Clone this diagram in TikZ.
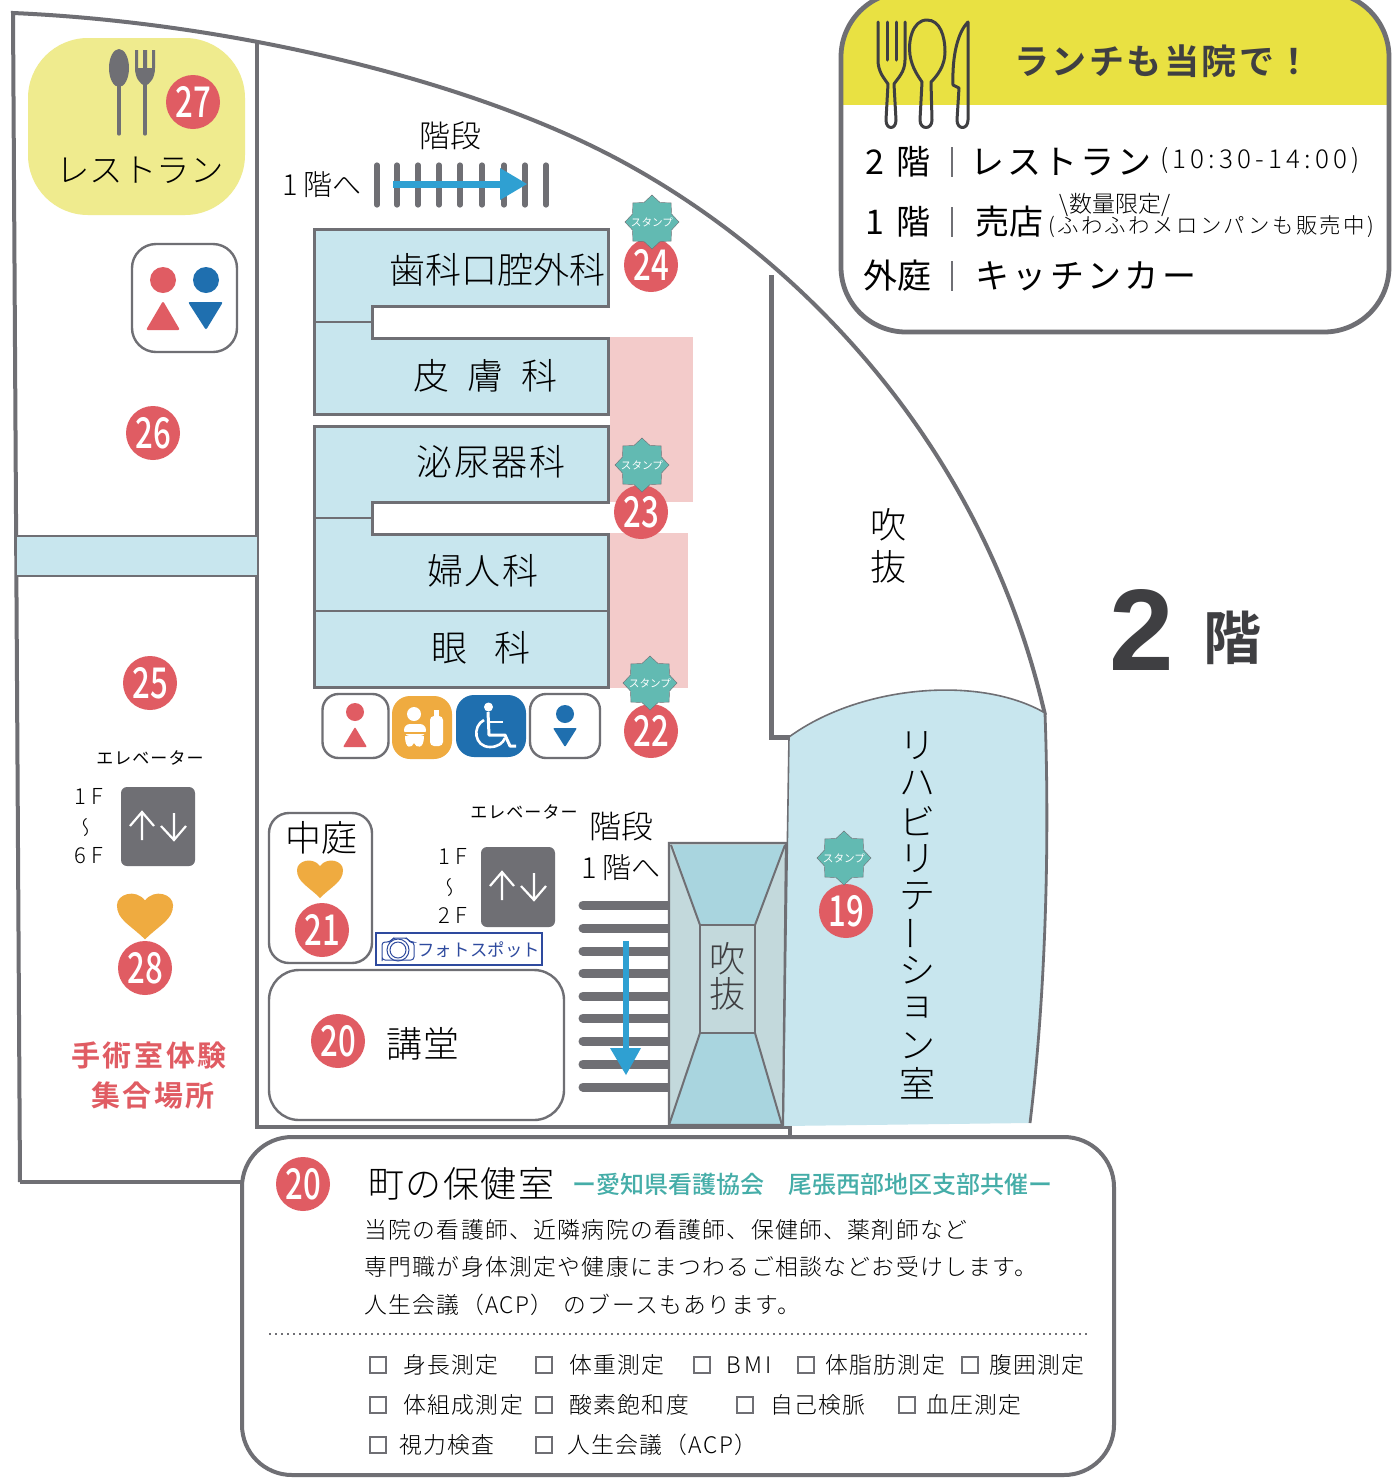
\documentclass[tikz,border=0pt]{standalone}
\usepackage{fontspec}
\usetikzlibrary{shapes.geometric}
\newfontfamily\jp{Noto Sans CJK JP Light}[BoldFont=Noto Sans CJK JP Bold]
\newfontfamily\jpm{Noto Sans CJK JP}
\newfontfamily\jpd{Noto Sans CJK JP Medium}
\newfontfamily\lat{Liberation Sans}
\newcommand\fsz[1]{\fontsize{#1}{#1}\selectfont\jp}
\newcommand\msz[1]{\fontsize{#1}{#1}\selectfont\jpm}
\newcommand\dsz[1]{\fontsize{#1}{#1}\selectfont\jpd}
\newcommand\nsz[1]{\fontsize{#1}{#1}\selectfont\lat}
\definecolor{wallgray}{HTML}{6F6F74}
\definecolor{roomblue}{HTML}{C8E6EE}
\definecolor{pinkarea}{HTML}{F3CBCA}
\definecolor{numred}{HTML}{E05C63}
\definecolor{stampteal}{HTML}{62BAB2}
\definecolor{lunchy}{HTML}{E9E142}
\definecolor{restay}{HTML}{EFEB8E}
\definecolor{hearto}{HTML}{EFAB40}
\definecolor{manblue}{HTML}{1F6FAF}
\definecolor{arrowblue}{HTML}{2FA0D2}
\definecolor{voidgray}{HTML}{C3D9DC}
\definecolor{voidblue}{HTML}{A9D5DF}
\definecolor{photoblue}{HTML}{2E4A9E}
\definecolor{tealtext}{HTML}{45ADA8}
\definecolor{darktext}{HTML}{3F3F42}
\tikzset{
  wall/.style={draw=wallgray,line width=2pt},
  thinwall/.style={draw=wallgray,line width=1.4pt},
  room/.style={draw=wallgray,line width=1.5pt,fill=roomblue},
  numdisc/.style={circle,fill=numred,text=white,minimum size=27pt,inner sep=0pt,font=\dsz{19}},
  stampstar/.style={star,star points=8,star point ratio=1.28,fill=stampteal,draw=wallgray,line width=0.2pt,minimum size=27pt,inner sep=0pt},
  stamptxt/.style={text=white,inner sep=0pt,font=\msz{5.3}},
  tx/.style={inner sep=0pt,text=black},
  lbl/.style={tx,anchor=west},
  iconbox/.style={draw=wallgray,line width=1.2pt,fill=white,rounded corners=8pt},
  eleva/.style={fill=wallgray,rounded corners=3pt},
  whitearrow/.style={draw=white,line width=1.1pt},
  heart/.pic={\fill[hearto] (0,20) .. controls (-12,8) and (-23,4) .. (-23,-8) .. controls (-23,-17) and (-8,-22) .. (0,-12) .. controls (8,-22) and (23,-17) .. (23,-8) .. controls (23,4) and (12,8) .. (0,20) -- cycle;}
}
\newcommand\numb[3]{\node[numdisc] (#1) at (#2) {\scalebox{0.82}[1.12]{#3}};}
\newcommand\stamp[2]{\node[stampstar] (#1) at (#2) {}; \node[stamptxt] at (#1) {スタンプ};}
\begin{document}
\begin{tikzpicture}[x=0.5pt,y=-0.5pt]
\useasboundingbox (0,0) rectangle (1399,1479);
\fill[white] (0,0) rectangle (1399,1479);

% pink areas
\fill[pinkarea] (610,337) rectangle (693,502);
\fill[pinkarea] (610,533) rectangle (688,688);

% outer walls
\draw[wall,line join=miter] (20,1182) -- (13,13) .. controls (220,22) and (450,75) .. (600,150) .. controls (780,240) and (980,430) .. (1045,715);
\draw[wall] (20,1182) -- (244,1182);
\draw[wall] (257,40) -- (257,1127) -- (790,1127) -- (790,1138);
\draw[wall,line width=2.5pt,line join=miter] (771,275) -- (771,737) -- (790,737);

% corridor
\fill[roomblue] (17,536) rectangle (257,576);
\draw[thinwall] (17,536) -- (257,536) (17,576) -- (257,576);

% clinic blocks
\draw[room] (314,229) -- (608,229) -- (608,306) -- (372,306) -- (372,338) -- (608,338) -- (608,414) -- (314,414) -- cycle;
\draw[thinwall] (314,322) -- (372,322);
\draw[room] (314,426) -- (608,426) -- (608,502) -- (372,502) -- (372,534) -- (608,534) -- (608,687) -- (314,687) -- cycle;
\draw[thinwall] (314,518) -- (372,518) (314,611) -- (608,611);

% rehabilitation room
\fill[roomblue] (789,737) .. controls (860,685) and (980,675) .. (1045,713) .. controls (1050,850) and (1045,1000) .. (1030,1123) -- (783,1126) -- cycle;
\draw[draw=wallgray,line width=0.8pt] (789,737) .. controls (860,685) and (980,675) .. (1045,713);
\draw[thinwall] (1045,713) .. controls (1050,850) and (1045,1000) .. (1030,1123);
\draw[draw=wallgray,line width=0.8pt] (789,737) -- (783,1126);

% restaurant
\fill[restay,rounded corners=30pt] (28,38) rectangle (245,215);
\fill[wallgray] (119,68) ellipse (10 and 19);
\draw[wallgray,line width=1.6pt,line cap=round] (119,80) -- (119,134);
\fill[wallgray] (135,50) -- (138,50) -- (138,68) -- (143,68) -- (143,50) -- (147,50) -- (147,68) -- (152,68) -- (152,50) -- (155,50) -- (155,68) .. controls (155,78) and (150,84) .. (145,86) .. controls (140,84) and (135,78) .. (135,68) -- cycle;
\draw[wallgray,line width=1.6pt,line cap=round] (145,82) -- (145,134);
\numb{n27}{193,102}{27}
\node[tx] (resto) at (140,170) {\fsz{16.7}レストラン};

% upper toilet
\node[iconbox,minimum width=52.5pt,minimum height=54pt,rounded corners=12pt] (wc2) at (184.5,298) {};
\fill[numred] (163,280) circle (13);
\fill[numred,rounded corners=1pt] (146,330) -- (180,330) -- (163,301) -- cycle;
\fill[manblue] (206,280) circle (13);
\fill[manblue,rounded corners=1pt] (188,302) -- (223,302) -- (206,330) -- cycle;

\numb{n26}{153,433}{26}
\numb{n25}{150,683}{25}

% left elevator
\node[tx] (ev1) at (150,758) {\msz{8.5}\addfontfeature{LetterSpace=6}エレベーター};
\node[tx] at (89,796) {\fsz{11}1 F};
\node[tx,rotate=90,xscale=-1] at (88,827) {\fsz{10}〜};
\node[tx] at (89,856) {\fsz{11}6 F};
\fill[eleva] (121,787) rectangle (195,866);
\draw[whitearrow] (142,840) -- (142,812) (130,826) -- (142,812) -- (154,826);
\draw[whitearrow] (174,813) -- (174,840) (161,826) -- (174,840) -- (186,826);

\path (145,915) pic[scale=1.22] {heart};
\numb{n28}{145,968}{28}
\node[tx,text=numred] (surg1) at (149,1055) {\fsz{14.5}\bfseries\addfontfeature{LetterSpace=9}手術室体験};
\node[tx,text=numred] (surg2) at (153,1095) {\fsz{14.5}\bfseries\addfontfeature{LetterSpace=9}集合場所};

% upper stairs
\node[tx] (st1) at (450,136) {\fsz{15.5}階段};
\node[tx] (st2) at (322,185) {\fsz{14.5}1 階へ};
\foreach \x in {377,397,418,439,460,482,504,525,546}
  \draw[wallgray,line width=2.6pt,line cap=round] (\x,165) -- (\x,205);
\draw[arrowblue,line width=3.5pt] (393,184) -- (505,184);
\fill[arrowblue] (500,168) -- (527,184) -- (500,200) -- cycle;

% clinic labels
\node[tx] (c1) at (497,270) {\fsz{18}歯科口腔外科};
\node[tx] (c2) at (485,376) {\fsz{18}皮\hspace{0.5em}膚\hspace{0.5em}科};
\node[tx] (c3) at (491,462) {\fsz{18}\addfontfeature{LetterSpace=4}泌尿器科};
\node[tx] (c4) at (483,571) {\fsz{18}\addfontfeature{LetterSpace=4}婦人科};
\node[tx] (c5) at (481,648) {\fsz{18}眼\hspace{0.75em}科};

\numb{n24}{651,265}{24}
\stamp{s24}{652,222}
\numb{n23}{641,512}{23}
\stamp{s23}{642,465}
\numb{n22}{651,731}{22}
\stamp{s22}{650,683}

% row of icons
\node[iconbox,minimum width=33pt,minimum height=32pt] (wcf) at (355.5,726) {};
\fill[numred] (355,712) circle (9);
\fill[numred,rounded corners=0.5pt] (343,747) -- (367,747) -- (355,727) -- cycle;
\node[fill=hearto,rounded corners=9pt,minimum width=30pt,minimum height=31.5pt,inner sep=0pt] (baby) at (422,727.5) {};
\fill[white] (414,714) circle (7);
\fill[white,rounded corners=3pt] (404,724) rectangle (426,736);
\fill[white] (405,736) .. controls (405,750) and (412,748) .. (414,743) .. controls (416,748) and (424,750) .. (424,736) -- cycle;
\draw[hearto,line width=0.6pt] (404,733) -- (426,733);
\fill[white,rounded corners=2pt] (430,716) rectangle (443,746);
\fill[white] (434,710) rectangle (439,718);
\node[fill=manblue,rounded corners=9pt,minimum width=35pt,minimum height=31pt,inner sep=0pt] (wheel) at (491,726) {};
\fill[white] (488.5,707) circle (4.5);
\draw[white,line width=1.5pt,line join=round] (488,712) -- (489,735) -- (505,735) -- (510,746) -- (516,746);
\draw[white,line width=1.3pt] (489,722) -- (503,722);
\draw[white,line width=1.3pt] (484,720) .. controls (472,726) and (474,747) .. (490,747) .. controls (498,747) and (503,743) .. (505,738);
\node[iconbox,minimum width=35pt,minimum height=32pt] (wcm) at (565,726) {};
\fill[manblue] (565,714) circle (9);
\fill[manblue,rounded corners=0.5pt] (553,728) -- (577,728) -- (565,747) -- cycle;

% courtyard
\node[iconbox,minimum width=51.5pt,minimum height=75pt,rounded corners=10pt] (court) at (320.5,888) {};
\node[tx] at (321,838) {\fsz{18}中庭};
\path (320,878) pic {heart};
\numb{n21}{322,930}{21}

% photo spot
\node[draw=photoblue,line width=0.6pt,fill=white,minimum width=83pt,minimum height=16pt,inner sep=0pt] (photo) at (459,949) {};
\draw[photoblue,line width=0.5pt,rounded corners=1.5pt] (382,958) -- (382,942) -- (390,942) -- (393,938) -- (407,938) -- (410,942) -- (414,942) -- (414,960) -- (382,960) -- cycle;
\draw[photoblue,line width=0.5pt] (398,950) circle (11) (398,950) circle (8);
\node[tx,text=photoblue,anchor=west] at (417,950) {\msz{8.7}\addfontfeature{LetterSpace=1}フォトスポット};

% lecture hall
\node[iconbox,minimum width=147.5pt,minimum height=75pt,rounded corners=15pt] (hall) at (416.5,1045) {};
\numb{n20a}{338,1041}{20}
\node[tx] at (423,1044) {\fsz{18}\addfontfeature{LetterSpace=4}講堂};

% lower elevator
\node[tx] (ev2) at (524,812) {\msz{8.5}\addfontfeature{LetterSpace=6}エレベーター};
\node[tx] at (453,856) {\fsz{11}1 F};
\node[tx,rotate=90,xscale=-1] at (452,887) {\fsz{10}〜};
\node[tx] at (453,915) {\fsz{11}2 F};
\fill[eleva] (481,847) rectangle (555,927);
\draw[whitearrow] (502,900) -- (502,872) (490,886) -- (502,872) -- (514,886);
\draw[whitearrow] (534,873) -- (534,900) (521,886) -- (534,900) -- (546,886);

% lower stairs
\node[tx] at (621,826) {\fsz{16}階段};
\node[tx] at (621,868) {\fsz{14.5}1 階へ};
\foreach \y in {905,928,951,973,996,1018,1041,1064,1087}
  \draw[wallgray,line width=4.5pt,line cap=round] (583,\y) -- (668,\y);

% atrium
\fill[voidgray] (669,843) -- (786,843) -- (783,1125) -- (669,1125) -- cycle;
\fill[voidblue] (673,845) -- (784,845) -- (755,925) -- (700,925) -- cycle;
\fill[voidblue] (700,1033) -- (755,1033) -- (781,1125) -- (669,1125) -- cycle;
\draw[wallgray,line width=1.1pt] (669,843) -- (786,843) -- (783,1125) -- (669,1125) -- cycle;
\draw[wallgray,line width=1pt] (700,925) rectangle (755,1033);
\draw[wallgray,line width=1pt] (671,845) -- (700,925) (785,845) -- (755,925) (700,1033) -- (669,1125) (755,1033) -- (782,1125);
\node[tx,text=darktext] at (727,959) {\fsz{18}吹};
\node[tx,text=darktext] at (727,994) {\fsz{18}抜};
\draw[arrowblue,line width=3pt] (626,941) -- (626,1052);
\fill[arrowblue] (610,1048) -- (641,1048) -- (626,1075) -- cycle;

% void label, rehab label
\node[tx] at (888,525) {\fsz{18}吹};
\node[tx] at (888,567) {\fsz{18}抜};
\foreach \c [count=\i from 0] in {リ,ハ,ビ,リ,テ}
  \node[tx] at (917,{746+\i*37.5}) {\fsz{18}\c};
\node[tx,rotate=90] at (917,933) {\fsz{18}ー};
\foreach \c [count=\i from 0] in {シ,ョ,ン,室}
  \node[tx] at (917,{970+\i*37.7}) {\fsz{18}\c};
\numb{n19}{846,911}{19}
\stamp{s19}{844,858}

% floor label
\node[tx,text=darktext] at (1142,630) {\nsz{58}\bfseries 2};
\node[tx,text=darktext] at (1232,638) {\fsz{29}\bfseries 階};

% lunch box
\begin{scope}
\clip[rounded corners=32.5pt] (841,-8) rectangle (1389,332);
\fill[lunchy] (841,-8) rectangle (1389,105);
\end{scope}
\draw[wall,line width=2.4pt,rounded corners=32.5pt] (841,-8) rectangle (1389,332);
\begin{scope}[darktext,line width=1.5pt,line join=round,line cap=round]
\draw (878,22) -- (878,60) .. controls (878,72) and (884,78) .. (888,84) -- (886,120) .. controls (886,130) and (896,130) .. (896,120) -- (894,84) .. controls (898,78) and (905,72) .. (905,60) -- (905,22);
\draw (887,22) -- (887,60) (896,22) -- (896,60);
\draw (927,20) .. controls (912,20) and (908,42) .. (910,55) .. controls (912,68) and (918,76) .. (922,82) -- (920,120) .. controls (920,130) and (932,130) .. (932,120) -- (931,82) .. controls (937,76) and (945,66) .. (945,52) .. controls (945,36) and (940,20) .. (927,20) -- cycle;
\draw (968,22) .. controls (958,32) and (952,55) .. (953,85) -- (959,88) -- (957,120) .. controls (957,130) and (968,130) .. (968,120) -- cycle;
\end{scope}
\node[tx,text=darktext] (lunch) at (1163,61) {\fsz{17.5}\bfseries\addfontfeature{LetterSpace=7}ランチも当院で！};
\node[tx] at (898,162) {\msz{17}2\hspace{0.35em}階};
\node[tx] at (898,222) {\msz{17}1\hspace{0.35em}階};
\node[tx] at (897,276) {\msz{17}外庭};
\foreach \y in {162,222,276}
  \draw[wallgray,line width=0.8pt] (952,\y-15) -- (952,\y+15);
\node[lbl] at (970,162) {\msz{17}\addfontfeature{LetterSpace=8}レストラン};
\node[lbl] at (1160,160) {\fsz{13}\addfontfeature{LetterSpace=16}(10:30-14:00)};
\node[lbl] at (975,222) {\msz{17}売店};
\node[tx] at (1115,205) {\fsz{11.5}\textbackslash 数量限定/};
\node[lbl] at (1048,227) {\fsz{10.7}\addfontfeature{LetterSpace=11}(ふわふわメロンパンも販売中)};
\node[lbl] at (975,276) {\msz{17}\addfontfeature{LetterSpace=10}キッチンカー};

% health box
\draw[wall,fill=white,rounded corners=25pt] (242,1137) rectangle (1114,1475);
\numb{n20b}{303,1184}{20}
\node[lbl] at (368,1184) {\fsz{18}\addfontfeature{LetterSpace=4}町の保健室};
\node[lbl,text=tealtext] at (572,1184) {\dsz{12}ー愛知県看護協会\hspace{1em}尾張西部地区支部共催ー};
\node[lbl] at (364,1230) {\fsz{11.4}\addfontfeature{LetterSpace=6}当院の看護師、近隣病院の看護師、保健師、薬剤師など};
\node[lbl] at (364,1267) {\fsz{11.4}\addfontfeature{LetterSpace=6}専門職が身体測定や健康にまつわるご相談などお受けします。};
\node[lbl] at (364,1305) {\fsz{11.4}\addfontfeature{LetterSpace=6}人生会議（A\kern0.6pt C\kern0.6pt P）\hspace{0.45em}のブースもあります。};
\draw[wallgray,line width=1pt,dotted] (269,1334) -- (1090,1334);
\foreach \x/\y in {378/1365,544/1365,702/1365,806/1365,970/1365,378/1405,544/1405,745/1405,907/1405,378/1445,544/1445}
  \draw[wallgray,line width=0.7pt] (\x-8,\y-8) rectangle (\x+8,\y+8);
\node[lbl] at (403,1365) {\fsz{11.4}\addfontfeature{LetterSpace=6}身長測定};
\node[lbl] at (569,1365) {\fsz{11.4}\addfontfeature{LetterSpace=6}体重測定};
\node[lbl] at (726,1365) {\fsz{11.4}\addfontfeature{LetterSpace=15}BMI};
\node[lbl] at (825,1365) {\fsz{11.4}\addfontfeature{LetterSpace=6}体脂肪測定};
\node[lbl] at (989,1365) {\fsz{11.4}\addfontfeature{LetterSpace=6}腹囲測定};
\node[lbl] at (403,1405) {\fsz{11.4}\addfontfeature{LetterSpace=6}体組成測定};
\node[lbl] at (569,1405) {\fsz{11.4}\addfontfeature{LetterSpace=6}酸素飽和度};
\node[lbl] at (770,1405) {\fsz{11.4}\addfontfeature{LetterSpace=6}自己検脈};
\node[lbl] at (926,1405) {\fsz{11.4}\addfontfeature{LetterSpace=6}血圧測定};
\node[lbl] at (399,1445) {\fsz{11.4}\addfontfeature{LetterSpace=6}視力検査};
\node[lbl] at (567,1445) {\fsz{11.4}\addfontfeature{LetterSpace=6}人生会議（A\kern0.8pt C\kern0.8pt P）};
\end{tikzpicture}
\end{document}
